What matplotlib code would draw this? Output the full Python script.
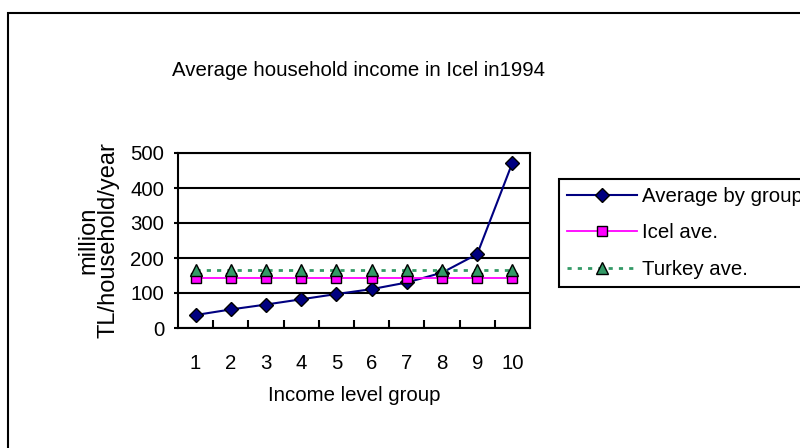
import matplotlib
matplotlib.use("Agg")
import matplotlib.pyplot as plt
from matplotlib.patches import Rectangle

plt.rcParams['font.family'] = ['Liberation Sans', 'DejaVu Sans']

groups = [1, 2, 3, 4, 5, 6, 7, 8, 9, 10]
avg_by_group = [37, 53, 67, 82, 97, 111, 130, 158, 211, 472]
icel_ave = [144, 144, 144, 144, 144, 144, 144, 144, 144, 144]
turkey_ave = [166, 166, 166, 166, 166, 166, 166, 166, 166, 166]

fs = 14.7

fig = plt.figure(figsize=(8, 4.48), dpi=100)
ax = fig.add_axes([178/800, 1-328/448, 352/800, 175/448])

ax.plot(groups, avg_by_group, color='#000080', lw=1.5, marker='D', ms=7,
        mfc='#000080', mec='black', mew=1, label='Average by group')
ax.plot(groups, icel_ave, color='#FF00FF', lw=1.3, marker='s', ms=7.5,
        mfc='#FF00FF', mec='black', mew=1, label='Icel ave.')
ax.plot(groups, turkey_ave, color='#339966', lw=2, ls=(0, (1.5, 2.2)), marker='^', ms=9,
        mfc='#339966', mec='black', mew=1, label='Turkey ave.')

ax.set_xlim(0.5, 10.5)
ax.set_ylim(0, 500)
ax.set_yticks([0, 100, 200, 300, 400, 500])
ax.set_xticks(groups)
ax.set_xticks([1.5, 2.5, 3.5, 4.5, 5.5, 6.5, 7.5, 8.5, 9.5], minor=True)
ax.tick_params(axis='x', which='major', length=0, pad=19, labelsize=fs)
ax.tick_params(axis='x', which='minor', direction='in', length=6, width=1.5)
ax.tick_params(axis='y', length=3, width=1.5, pad=7, labelsize=fs)
ax.grid(axis='y', color='black', lw=1.5)
ax.set_axisbelow(True)
for s in ax.spines.values():
    s.set_linewidth(1.5)

ax.set_xlabel('Income level group', fontsize=fs, labelpad=9)
ax.set_ylabel('million\nTL/household/year', fontsize=17, labelpad=8, linespacing=0.85)
fig.text(358/800, 1-71/448, 'Average household income in Icel in1994',
         ha='center', va='center', fontsize=fs)

# legend runs off the right edge, as in the original
leg = fig.legend(loc='upper left', bbox_to_anchor=(559/800, 1-179/448), fontsize=fs,
                 fancybox=False, edgecolor='black', framealpha=1, borderaxespad=0,
                 handlelength=3.43, handletextpad=0.25, labelspacing=0.86, borderpad=0.38)
leg.get_frame().set_linewidth(1.5)

fig.add_artist(Rectangle((8/800, -0.5), 2, 1-13/448+0.5, transform=fig.transFigure,
                         fill=False, lw=1.5, color='black'))

fig.savefig('out.png', dpi=100)
